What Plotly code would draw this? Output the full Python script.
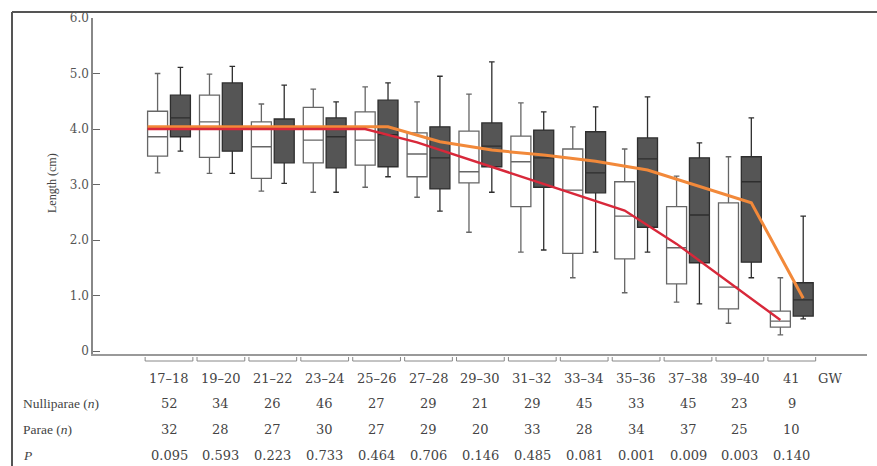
import plotly.graph_objects as go

# ---------------- data ----------------
groups = ["17–18", "19–20", "21–22", "23–24", "25–26", "27–28", "29–30",
          "31–32", "33–34", "35–36", "37–38", "39–40", "41"]
nulli_n = [52, 34, 26, 46, 27, 29, 21, 29, 45, 33, 45, 23, 9]
parae_n = [32, 28, 27, 30, 27, 29, 20, 33, 28, 34, 37, 25, 10]
p_vals = ["0.095", "0.593", "0.223", "0.733", "0.464", "0.706", "0.146",
          "0.485", "0.081", "0.001", "0.009", "0.003", "0.140"]

# Nulliparae (white boxes)
nulli_upper = [5.00, 4.99, 4.45, 4.72, 4.76, 4.49, 4.63, 4.47, 4.04, 3.64, 3.15, 3.50, 1.32]
nulli_q3 = [4.32, 4.61, 4.13, 4.39, 4.31, 3.93, 3.96, 3.87, 3.64, 3.05, 2.60, 2.67, 0.72]
nulli_median = [3.86, 4.13, 3.68, 3.80, 3.80, 3.55, 3.23, 3.41, 2.90, 2.43, 1.86, 1.15, 0.54]
nulli_q1 = [3.51, 3.49, 3.11, 3.39, 3.35, 3.14, 3.03, 2.60, 1.76, 1.66, 1.21, 0.76, 0.43]
nulli_lower = [3.21, 3.20, 2.88, 2.86, 2.95, 2.77, 2.14, 1.78, 1.32, 1.05, 0.88, 0.50, 0.29]

# Parae (dark boxes)
parae_upper = [5.11, 5.13, 4.79, 4.49, 4.83, 4.95, 5.21, 4.31, 4.40, 4.58, 3.75, 4.20, 2.43]
parae_q3 = [4.61, 4.83, 4.18, 4.20, 4.52, 4.04, 4.11, 3.98, 3.95, 3.84, 3.48, 3.50, 1.23]
parae_median = [4.20, 4.05, 4.00, 3.86, 3.90, 3.48, 3.69, 3.48, 3.21, 3.46, 2.45, 3.05, 0.92]
parae_q1 = [3.86, 3.60, 3.39, 3.30, 3.32, 2.92, 3.32, 2.95, 2.85, 2.23, 1.59, 1.60, 0.63]
parae_lower = [3.60, 3.20, 3.02, 2.86, 3.14, 2.52, 2.86, 1.82, 1.78, 1.78, 0.85, 1.32, 0.58]

# trend lines
nulli_trend = [4.00, 4.00, 4.00, 4.00, 4.00, 3.76, 3.45, 3.14, 2.84, 2.53, 1.93, 1.24, 0.56]
parae_trend = [4.04, 4.04, 4.04, 4.04, 4.04, 3.77, 3.62, 3.53, 3.42, 3.26, 2.97, 2.67, 0.95]

ytick_vals = [0, 1, 2, 3, 4, 5, 6]
ytick_text = ["0", "1.0", "2.0", "3.0", "4.0", "5.0", "6.0"]

# ---------------- layout constants ----------------
W, H = 877, 466
L, R, T, B = 93, 10, 18, 112
plot_w = W - L - R
plot_h = H - T - B
def px_x(p):
    return (p - L) / plot_w
def px_y(p):
    return (H - B - p) / plot_h

off = 0.22
bw = 0.385
idx = list(range(len(groups)))
pos_w = [i - off for i in idx]
pos_d = [i + off for i in idx]

fig = go.Figure()

fig.add_trace(go.Box(
    x=pos_w, q1=nulli_q1, median=nulli_median, q3=nulli_q3,
    lowerfence=nulli_lower, upperfence=nulli_upper,
    width=bw, whiskerwidth=0.28,
    fillcolor="white", line=dict(color="#666666", width=1.3),
    name="Nulliparae", showlegend=False, hoverinfo="skip"))

fig.add_trace(go.Box(
    x=pos_d, q1=parae_q1, median=parae_median, q3=parae_q3,
    lowerfence=parae_lower, upperfence=parae_upper,
    width=bw, whiskerwidth=0.28,
    fillcolor="#555555", line=dict(color="#2e2e2e", width=1.3),
    name="Parae", showlegend=False, hoverinfo="skip"))

start_x = pos_w[0] - bw / 2
fig.add_trace(go.Scatter(
    x=[start_x] + pos_d, y=[parae_trend[0]] + parae_trend,
    mode="lines", line=dict(color="#f2893a", width=3),
    showlegend=False, hoverinfo="skip"))
fig.add_trace(go.Scatter(
    x=[start_x] + pos_w, y=[nulli_trend[0]] + nulli_trend,
    mode="lines", line=dict(color="#d8283a", width=2.4),
    showlegend=False, hoverinfo="skip"))

font_lab = "Liberation Serif, DejaVu Serif, serif"
font_num = "DejaVu Serif, Liberation Serif, serif"
txt_col = "#444444"

annotations = []
row_label_y = px_y(378)
row_n1_y = px_y(403)
row_n2_y = px_y(429)
row_p_y = px_y(455)
for i, g in enumerate(groups):
    for val, yy in ((g, row_label_y), (str(nulli_n[i]), row_n1_y),
                    (str(parae_n[i]), row_n2_y), (p_vals[i], row_p_y)):
        annotations.append(dict(x=i, y=yy, xref="x", yref="paper", text=val,
                                showarrow=False, xanchor="center", yanchor="middle",
                                font=dict(family=font_num, size=13, color=txt_col)))
annotations.append(dict(x=len(groups) - 1 + 0.73, y=row_label_y, xref="x", yref="paper",
                        text="GW", showarrow=False, xanchor="center", yanchor="middle",
                        font=dict(family=font_num, size=13, color=txt_col)))
for lab, yy in (("Nulliparae (<i>n</i>)", row_n1_y), ("Parae (<i>n</i>)", row_n2_y),
                ("<i>P</i>", row_p_y)):
    annotations.append(dict(x=px_x(21), y=yy, xref="paper", yref="paper", text=lab,
                            showarrow=False, xanchor="left", yanchor="middle",
                            font=dict(family=font_lab, size=13.5, color=txt_col)))
annotations.append(dict(x=px_x(52), y=px_y(183), xref="paper", yref="paper",
                        text="Length (cm)", textangle=-90, showarrow=False,
                        xanchor="center", yanchor="middle",
                        font=dict(family=font_lab, size=12, color=txt_col)))

shapes = []
# brackets under the axis
by0 = px_y(361)
by1 = px_y(357)
for i in idx:
    x0, x1 = i - 0.46, i + 0.46
    shapes.append(dict(type="path", xref="x", yref="paper",
                       path=f"M {x0},{by1} L {x0},{by0} L {x1},{by0} L {x1},{by1}",
                       line=dict(color="#888888", width=1)))
# page frame (left and top)
shapes.append(dict(type="line", xref="paper", yref="paper",
                   x0=px_x(12), x1=px_x(12), y0=px_y(H), y1=px_y(12),
                   line=dict(color="#555555", width=2)))
shapes.append(dict(type="line", xref="paper", yref="paper",
                   x0=px_x(12), x1=px_x(W), y0=px_y(12), y1=px_y(12),
                   line=dict(color="#555555", width=2)))

x_left = (L - 169) / 51.9
x_right = (W - R - 169) / 51.9
y_bottom = -3 / 55.5

fig.update_layout(
    width=W, height=H,
    margin=dict(l=L, r=R, t=T, b=B),
    paper_bgcolor="white", plot_bgcolor="white",
    boxmode="overlay",
    showlegend=False,
    xaxis=dict(range=[x_left, x_right], showgrid=False, zeroline=False,
               showticklabels=False, ticks="", showline=True,
               linecolor="#999999", linewidth=1.5),
    yaxis=dict(range=[y_bottom, 6.0], showgrid=False, zeroline=False,
               tickvals=ytick_vals, ticktext=ytick_text, ticks="inside",
               ticklen=7, tickcolor="#666666", tickwidth=1.2,
               showline=True, linecolor="#888888", linewidth=1.5,
               tickfont=dict(family=font_num, size=12, color="#555555")),
    annotations=annotations,
    shapes=shapes,
)

fig.write_html("out.html",
               config={"displayModeBar": False},
               post_script="document.body.style.margin='0';document.body.style.overflow='hidden';")
